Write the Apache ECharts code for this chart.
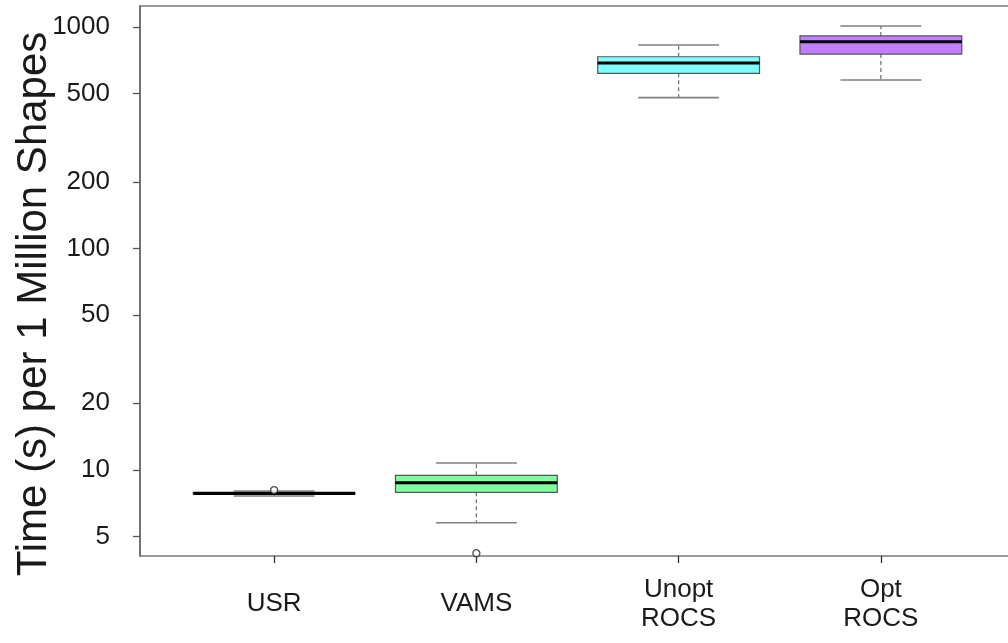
<!DOCTYPE html>
<html>
<head>
<meta charset="utf-8">
<script src="https://cdn.jsdelivr.net/npm/echarts@6/dist/echarts.min.js"></script>
<style>
html,body{margin:0;padding:0;background:#fff;}
#chart{width:1008px;height:643px;}
</style>
</head>
<body>
<div id="chart"></div>
<script>
// ---- data ----
const categories = ['USR', 'VAMS', 'Unopt\nROCS', 'Opt\nROCS'];
const whiskerLow  = [7.63, 5.78, 480, 576];
const q1          = [7.82, 7.93, 618, 755];
const median      = [7.85, 8.76, 688, 858];
const q3          = [7.88, 9.46, 734, 911];
const whiskerHigh = [8.04, 10.75, 829, 1010];
const outlierCategory = [0, 1];
const outlierValue    = [8.12, 4.21];
const yTicks = [5, 10, 20, 50, 100, 200, 500, 1000];
const yTitle = 'Time (s) per 1 Million Shapes';

// ---- styles ----
const boxFills = ['#ffffff', '#80ffa0', '#80ffff', '#c080ff'];
const FONT = '"Liberation Sans", Arial, Helvetica, sans-serif';
const Y_MIN = 4.09, Y_MAX = 1244;

const boxData = categories.map((c, i) => [i, whiskerLow[i], q1[i], median[i], q3[i], whiskerHigh[i]]);
const outlierData = outlierCategory.map((c, i) => [c, outlierValue[i]]);

const chart = echarts.init(document.getElementById('chart'), null, {renderer: 'canvas'});

function renderBox(params, api) {
  const idx = api.value(0);
  const band = api.size([1, 0])[0];
  const bw = band * 0.8, cw = band * 0.4;
  const cx = api.coord([idx, api.value(3)])[0];
  const yLo = api.coord([idx, api.value(1)])[1];
  const yQ1 = api.coord([idx, api.value(2)])[1];
  const yMed = api.coord([idx, api.value(3)])[1];
  const yQ3 = api.coord([idx, api.value(4)])[1];
  const yHi = api.coord([idx, api.value(5)])[1];
  const whiskerStyle = {stroke: '#777', lineWidth: 1.3, lineDash: [4, 3]};
  const capStyle = {stroke: '#808080', lineWidth: 1.6};
  return {
    type: 'group',
    children: [
      {type: 'line', shape: {x1: cx, y1: yQ3, x2: cx, y2: yHi}, style: whiskerStyle},
      {type: 'line', shape: {x1: cx, y1: yQ1, x2: cx, y2: yLo}, style: whiskerStyle},
      {type: 'line', shape: {x1: cx - cw / 2, y1: yHi, x2: cx + cw / 2, y2: yHi}, style: capStyle},
      {type: 'line', shape: {x1: cx - cw / 2, y1: yLo, x2: cx + cw / 2, y2: yLo}, style: capStyle},
      {type: 'rect', shape: {x: cx - bw / 2, y: yQ3, width: bw, height: yQ1 - yQ3},
        style: {fill: boxFills[params.dataIndex], stroke: '#555', lineWidth: 1.2}},
      {type: 'line', shape: {x1: cx - bw / 2, y1: yMed, x2: cx + bw / 2, y2: yMed},
        style: {stroke: '#000', lineWidth: 3.2}}
    ]
  };
}

const option = {
  animation: false,
  backgroundColor: '#fff',
  textStyle: {fontFamily: FONT},
  grid: [
    {left: 140, top: 6, width: 874, height: 550, show: true, borderColor: '#7a7a7a', borderWidth: 1.5,
      backgroundColor: 'transparent', outerBoundsMode: 'none', containLabel: false},
    {left: 173, top: 6, width: 809, height: 550, outerBoundsMode: 'none', containLabel: false}
  ],
  xAxis: [
    {type: 'value', gridIndex: 0, min: 0, max: 1, show: false},
    {type: 'category', gridIndex: 1, data: categories, boundaryGap: true,
      axisLine: {show: false},
      axisTick: {show: true, alignWithLabel: true, length: 7, lineStyle: {color: '#333', width: 1.3}},
      axisLabel: {interval: 0, fontSize: 26, lineHeight: 29, color: '#1a1a1a', fontFamily: FONT,
        margin: 48, verticalAlign: 'middle'},
      splitLine: {show: false}}
  ],
  yAxis: [
    {type: 'log', logBase: 10, gridIndex: 0, min: Y_MIN, max: Y_MAX,
      axisLine: {show: true, lineStyle: {color: '#666', width: 1.5}},
      axisTick: {show: true, customValues: yTicks, length: 7, lineStyle: {color: '#555', width: 1.3}},
      axisLabel: {show: true, customValues: yTicks, fontSize: 26, color: '#1a1a1a', fontFamily: FONT, margin: 30,
        formatter: function (v) { return String(Math.round(v)); }},
      splitLine: {show: false}, minorTick: {show: false}},
    {type: 'log', logBase: 10, gridIndex: 1, min: Y_MIN, max: Y_MAX, show: false, splitLine: {show: false}}
  ],
  graphic: [
    {type: 'text', x: 34, y: 304, rotation: Math.PI / 2,
      style: {text: yTitle, fontSize: 42, fontFamily: FONT, fill: '#1a1a1a',
        textAlign: 'center', textVerticalAlign: 'middle', align: 'center', verticalAlign: 'middle'}}
  ],
  series: [
    {type: 'custom', xAxisIndex: 1, yAxisIndex: 1, renderItem: renderBox,
      encode: {x: 0, y: [1, 2, 3, 4, 5]}, data: boxData, z: 2},
    {type: 'scatter', xAxisIndex: 1, yAxisIndex: 1, data: outlierData, symbol: 'circle', symbolSize: 7,
      itemStyle: {color: '#fff', borderColor: '#222', borderWidth: 1.3}, z: 3}
  ]
};
chart.setOption(option);
</script>
</body>
</html>
